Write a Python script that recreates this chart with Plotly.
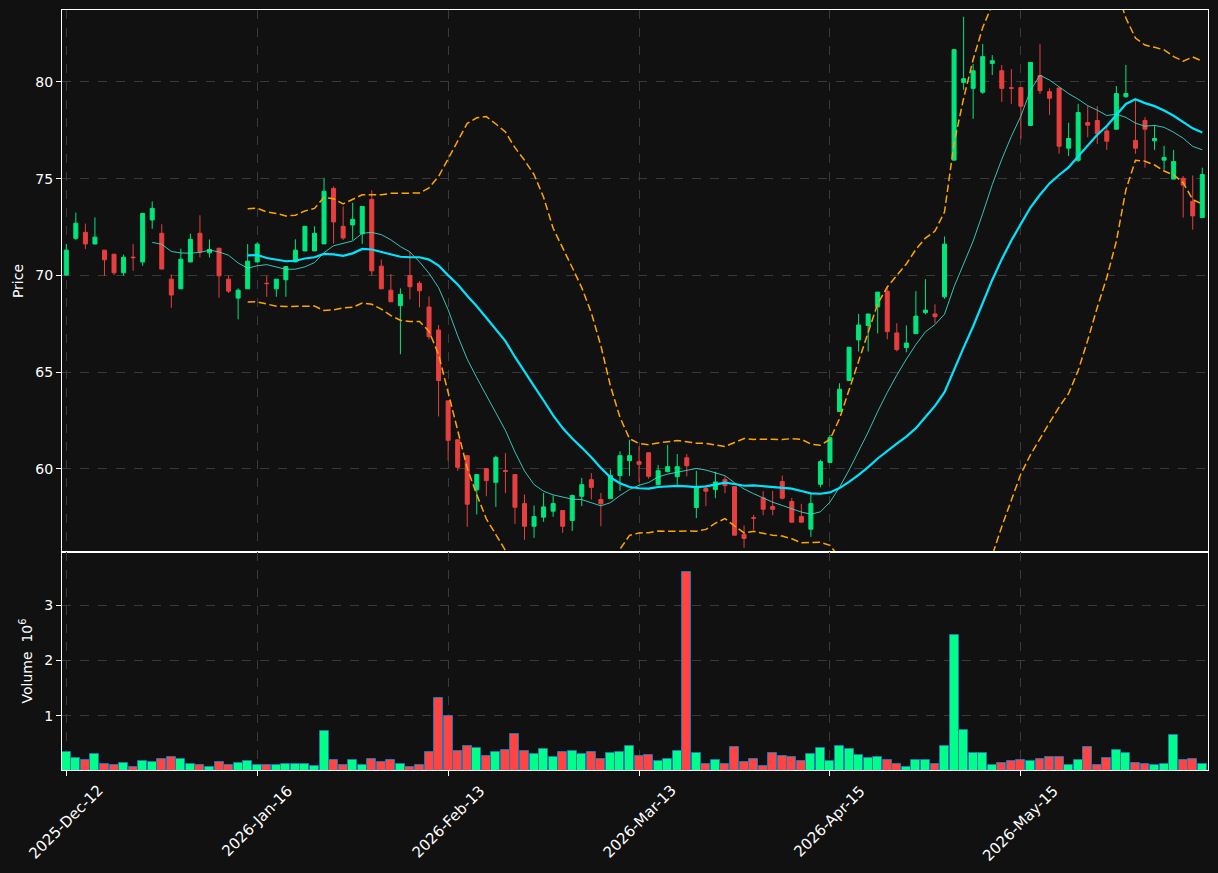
import pandas as pd
import plotly.graph_objects as go
from plotly.subplots import make_subplots

# ---------------- data ----------------
tick_index = [0, 20, 40, 60, 80, 100]
tick_labels = ["2025-Dec-12", "2026-Jan-16", "2026-Feb-13", "2026-Mar-13", "2026-Apr-15", "2026-May-15"]

open_ = [70.02, 71.92, 72.23, 71.63, 71.31, 71.10, 70.14, 70.95, 70.70, 72.87,
         72.18, 69.81, 69.31, 70.70, 72.18, 71.17, 71.41, 69.81, 68.83, 69.31,
         70.70, 69.60, 69.31, 69.78, 70.70, 71.27, 71.27, 71.63, 74.50, 72.54,
         72.61, 72.16, 73.93, 70.48, 69.24, 68.44, 70.00, 69.60, 68.37, 67.18,
         63.52, 61.51, 60.69, 58.93, 60.02, 59.31, 59.92, 59.71, 58.21, 57.04,
         57.51, 57.82, 57.85, 57.34, 58.59, 59.45, 58.42, 58.47, 59.66, 60.43,
         60.38, 60.84, 59.19, 59.86, 59.60, 60.58, 58.01, 58.99, 58.93, 59.45,
         59.09, 56.62, 57.48, 58.51, 58.06, 59.35, 58.32, 57.54, 56.89, 59.21,
         60.34, 62.97, 64.57, 66.67, 67.42, 68.38, 69.19, 67.03, 66.27, 66.99,
         68.08, 68.01, 68.90, 75.96, 79.98, 79.67, 79.47, 80.96, 80.58, 79.70,
         79.71, 77.75, 80.33, 79.50, 79.69, 76.58, 75.95, 77.90, 78.01, 77.47,
         77.56, 79.24, 76.98, 78.01, 76.96, 75.96, 74.98, 75.02, 73.83, 72.99]
high = [71.62, 73.25, 72.68, 73.00, 71.31, 71.10, 71.08, 71.62, 73.21, 73.83,
        72.65, 70.05, 71.39, 72.16, 73.11, 71.86, 71.41, 70.00, 69.33, 71.62,
        71.72, 69.98, 69.81, 70.46, 71.87, 72.54, 72.54, 75.05, 74.60, 73.57,
        73.76, 73.57, 74.40, 70.82, 70.07, 69.33, 71.22, 69.71, 68.92, 67.44,
        63.52, 61.51, 60.69, 59.71, 60.02, 60.69, 60.82, 59.71, 58.68, 58.11,
        58.76, 58.63, 57.85, 58.68, 59.54, 59.79, 58.76, 59.97, 60.91, 61.51,
        61.17, 60.84, 60.21, 61.25, 60.77, 60.77, 59.90, 59.11, 59.86, 59.62,
        59.09, 57.08, 57.63, 58.85, 58.87, 59.66, 58.51, 58.20, 58.76, 60.48,
        61.77, 64.43, 66.29, 68.01, 68.01, 69.14, 69.45, 67.53, 67.42, 69.19,
        69.81, 68.51, 72.01, 81.67, 83.37, 80.93, 81.96, 81.39, 80.88, 80.67,
        79.71, 81.01, 81.96, 79.67, 79.69, 77.89, 78.87, 78.75, 78.75, 77.75,
        79.79, 80.88, 79.16, 78.18, 77.75, 76.70, 76.49, 75.14, 75.17, 75.57]
low = [70.00, 71.84, 71.37, 71.60, 69.98, 70.02, 70.00, 70.24, 70.50, 72.41,
       70.33, 68.33, 69.31, 70.70, 70.93, 70.93, 68.85, 69.09, 67.73, 69.31,
       70.70, 68.90, 68.90, 68.90, 70.70, 71.27, 71.27, 71.63, 71.65, 71.84,
       71.84, 71.63, 70.00, 69.31, 68.64, 65.93, 68.76, 68.35, 66.70, 62.71,
       60.43, 59.91, 57.01, 57.65, 58.59, 58.04, 58.75, 57.16, 56.34, 56.44,
       57.27, 57.53, 56.70, 56.80, 58.08, 58.42, 57.04, 58.47, 58.87, 59.64,
       59.31, 59.50, 59.19, 59.86, 59.19, 59.62, 57.46, 58.08, 58.49, 58.75,
       56.58, 55.93, 56.87, 57.61, 57.61, 58.42, 57.25, 57.25, 56.49, 59.05,
       60.34, 62.97, 64.57, 66.07, 66.07, 67.01, 66.70, 66.08, 66.03, 66.99,
       67.99, 67.53, 68.80, 75.96, 79.59, 78.09, 79.38, 80.36, 78.97, 78.87,
       77.06, 77.75, 79.38, 78.30, 76.29, 76.17, 75.86, 77.15, 76.80, 76.49,
       77.56, 79.18, 76.29, 75.57, 76.49, 75.46, 74.98, 72.99, 72.37, 72.99]
close = [71.31, 72.70, 71.63, 71.98, 70.81, 70.14, 70.94, 70.92, 73.21, 73.47,
         70.33, 68.99, 70.84, 71.87, 71.22, 71.34, 69.98, 69.19, 69.24, 70.74,
         71.62, 69.58, 69.81, 70.46, 71.31, 72.54, 72.18, 74.35, 72.77, 71.94,
         72.90, 73.57, 70.24, 69.31, 68.64, 69.02, 69.42, 69.21, 66.84, 64.57,
         61.48, 60.09, 58.18, 59.71, 59.40, 60.60, 59.88, 58.02, 57.04, 57.54,
         58.04, 58.21, 57.04, 58.63, 59.19, 59.05, 58.20, 59.66, 60.69, 60.69,
         60.24, 59.62, 59.91, 60.12, 60.12, 60.17, 59.05, 58.85, 59.33, 59.14,
         56.58, 56.41, 57.46, 57.92, 57.92, 58.49, 57.25, 57.25, 58.21, 60.38,
         61.62, 64.12, 66.29, 67.44, 68.01, 69.14, 67.10, 66.17, 66.51, 67.90,
         68.21, 67.87, 71.62, 81.67, 80.17, 80.58, 81.31, 81.10, 79.67, 79.68,
         78.75, 81.01, 79.55, 79.16, 76.68, 77.08, 78.42, 77.77, 77.32, 76.94,
         79.40, 79.40, 76.58, 77.56, 77.08, 76.10, 75.89, 74.67, 73.08, 75.22]
volume_millions = [0.345, 0.236, 0.200, 0.309, 0.127, 0.109, 0.145, 0.073, 0.182, 0.164,
                   0.218, 0.255, 0.218, 0.127, 0.109, 0.073, 0.164, 0.109, 0.145, 0.182,
                   0.109, 0.109, 0.109, 0.127, 0.127, 0.127, 0.091, 0.727, 0.200, 0.109,
                   0.200, 0.109, 0.218, 0.164, 0.200, 0.127, 0.073, 0.109, 0.345, 1.327,
                   1.000, 0.364, 0.455, 0.418, 0.273, 0.345, 0.382, 0.673, 0.364, 0.309,
                   0.400, 0.255, 0.345, 0.364, 0.309, 0.345, 0.218, 0.327, 0.345, 0.455,
                   0.273, 0.291, 0.182, 0.218, 0.364, 3.600, 0.327, 0.127, 0.200, 0.127,
                   0.436, 0.164, 0.218, 0.091, 0.327, 0.273, 0.255, 0.182, 0.309, 0.418,
                   0.182, 0.455, 0.400, 0.291, 0.236, 0.255, 0.200, 0.127, 0.073, 0.200,
                   0.200, 0.127, 0.455, 2.455, 0.745, 0.327, 0.327, 0.109, 0.145, 0.182,
                   0.200, 0.182, 0.218, 0.255, 0.255, 0.109, 0.200, 0.436, 0.109, 0.236,
                   0.382, 0.327, 0.145, 0.127, 0.109, 0.127, 0.655, 0.200, 0.218, 0.127]

# ---------------- styling ----------------
BG = "#111111"
UP = "#00e67c"
DOWN = "#e73f3f"
UP_VOL = "#00ff88"
DOWN_VOL = "#ff4444"
GRID = "#3a3a3a"
FONT = "DejaVu Sans"

idx = list(range(len(close)))
s_close = pd.Series(close)
ma10 = s_close.rolling(10).mean()
ma20 = s_close.rolling(20).mean()
sd20 = s_close.rolling(20).std(ddof=0)
upper = ma20 + 2 * sd20
lower = ma20 - 2 * sd20

vol_colors = [UP_VOL if c >= o else DOWN_VOL for o, c in zip(open_, close)]

fig = make_subplots(rows=2, cols=1, shared_xaxes=True, vertical_spacing=0)

fig.add_trace(go.Candlestick(
    x=idx, open=open_, high=high, low=low, close=close,
    increasing=dict(line=dict(color=UP, width=1), fillcolor=UP),
    decreasing=dict(line=dict(color=DOWN, width=1), fillcolor=DOWN),
    whiskerwidth=0, showlegend=False, hoverinfo="skip"), row=1, col=1)

fig.add_trace(go.Scatter(x=idx, y=ma10, mode="lines",
                         line=dict(color="rgba(64,224,208,0.85)", width=1),
                         showlegend=False, hoverinfo="skip"), row=1, col=1)
fig.add_trace(go.Scatter(x=idx, y=ma20, mode="lines",
                         line=dict(color="#00e5ff", width=2.2),
                         showlegend=False, hoverinfo="skip"), row=1, col=1)
for band in (upper, lower):
    fig.add_trace(go.Scatter(x=idx, y=band, mode="lines",
                             line=dict(color="#ffa500", width=1.5, dash="7.5px,3.5px"),
                             showlegend=False, hoverinfo="skip"), row=1, col=1)

fig.add_trace(go.Bar(x=idx, y=volume_millions, width=0.94,
                     marker=dict(color=vol_colors, line=dict(color="#1f77b4", width=1)),
                     showlegend=False, hoverinfo="skip"), row=2, col=1)

split = (770 - 552) / (770 - 10)

axis_common = dict(showline=True, linecolor="white", linewidth=1, mirror=True,
                   showgrid=True, gridcolor=GRID, griddash="dash", gridwidth=1,
                   zeroline=False, tickfont=dict(color="white", size=14, family=FONT))

fig.update_layout(
    width=1218, height=873,
    margin=dict(l=62, r=10, t=10, b=103),
    paper_bgcolor=BG, plot_bgcolor=BG,
    font=dict(family=FONT, color="white", size=14),
    boxgap=0.4, bargap=0,
    showlegend=False,
    xaxis=dict(axis_common, range=[-0.45, 119.6], tickvals=tick_index, showticklabels=False,
               ticks="", rangeslider=dict(visible=False)),
    xaxis2=dict(axis_common, range=[-0.45, 119.6], tickvals=tick_index, showticklabels=False,
                ticks="outside", ticklen=5, tickcolor="white"),
    yaxis=dict(axis_common, domain=[split, 1], range=[55.71, 83.72], tickvals=[60, 65, 70, 75, 80],
               ticks="outside", ticklen=5, tickcolor="white",
               title=dict(text="Price", font=dict(color="white", size=14, family=FONT), standoff=8)),
    yaxis2=dict(axis_common, domain=[0, split], range=[0.024, 3.96], tickvals=[1, 2, 3],
                ticks="outside", ticklen=5, tickcolor="white",
                title=dict(text="Volume\u00a0 10<sup>6</sup>",
                           font=dict(color="white", size=14, family=FONT), standoff=8)),
)

for t, lab in zip(tick_index, tick_labels):
    fig.add_annotation(x=t, xref="x2", y=0, yref="paper", yshift=-9,
                       text=lab, textangle=-45, xanchor="center", yanchor="top",
                       showarrow=False, font=dict(color="white", size=15, family=FONT))

fig.write_html("out.html")
